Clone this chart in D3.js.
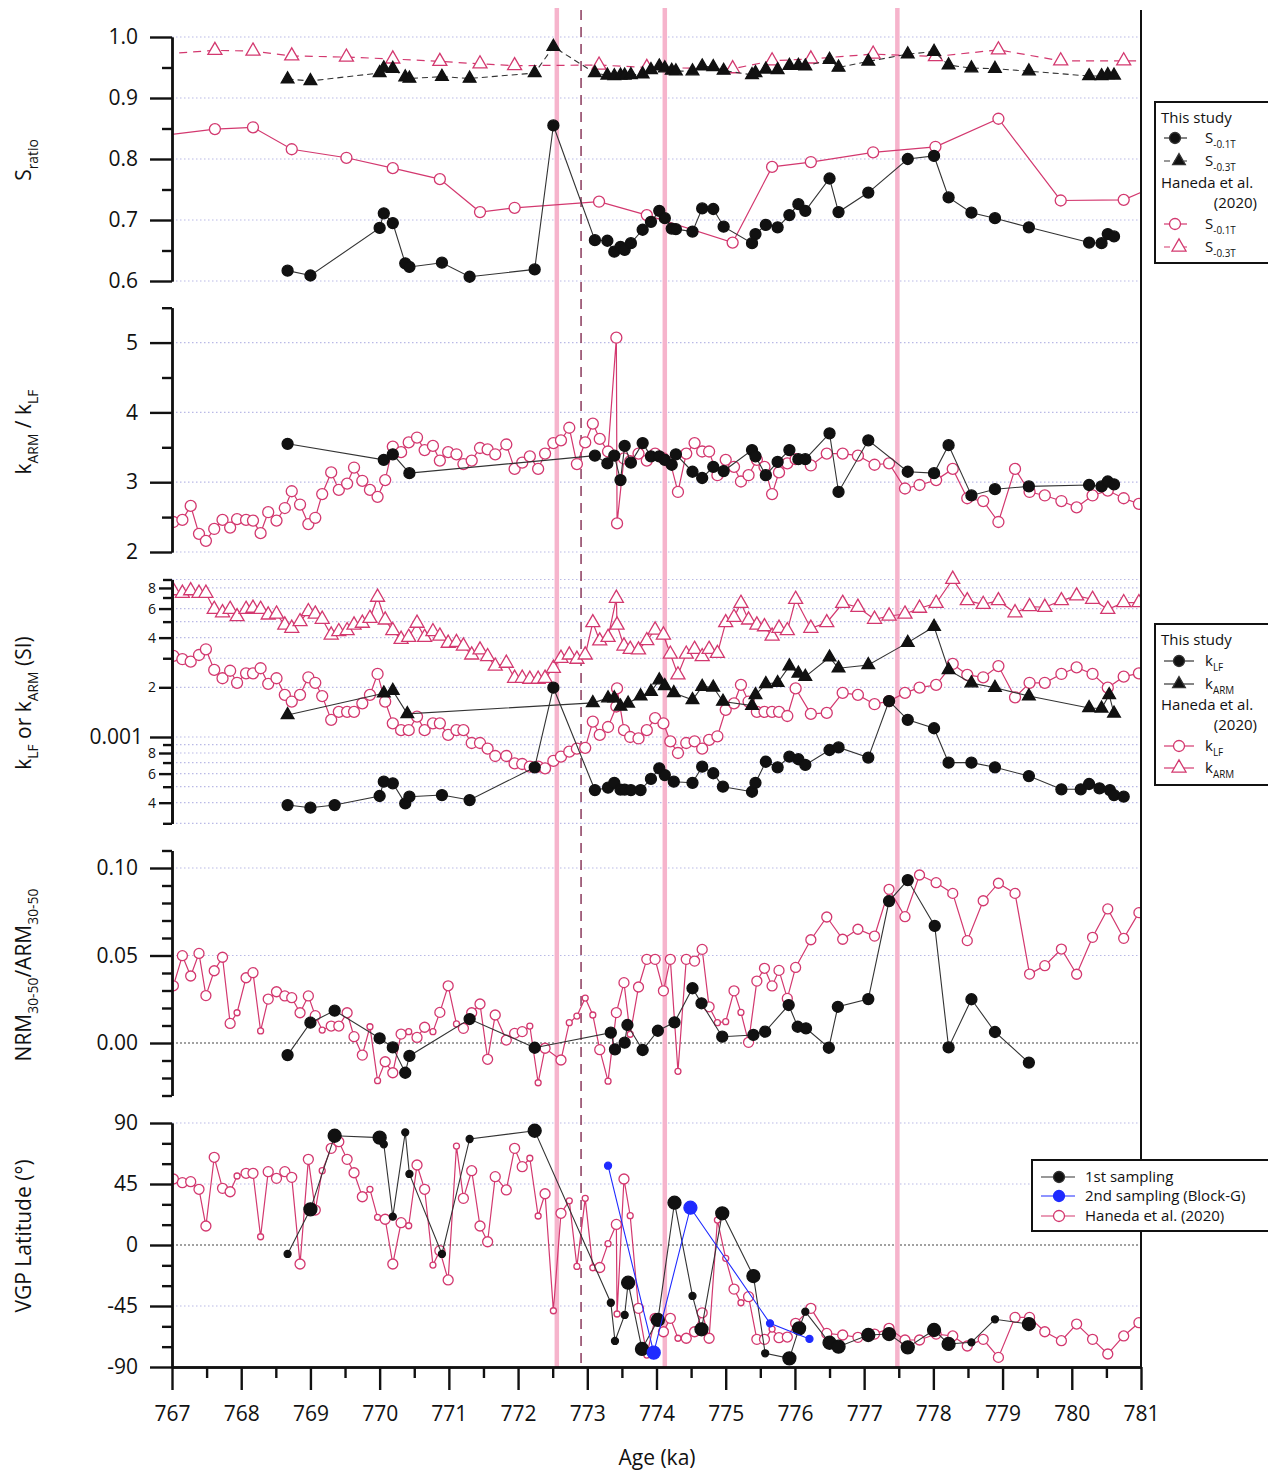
<!DOCTYPE html>
<html>
<head>
<meta charset="utf-8">
<script src="https://cdn.jsdelivr.net/npm/d3@7"></script>
<style>
  body { margin: 0; background: #fff; }
  svg text { font-family: "Open Sans", "DejaVu Sans", sans-serif; fill: #111; }
</style>
</head>
<body>
<div class="canvas"></div>
<script>
//DATA - THIS STUDY, S-RATIO
const sAge = [768.67, 769.00, 770.00, 770.06, 770.19, 770.37, 770.43, 770.90, 771.30, 772.24,
  772.51, 773.11, 773.29, 773.39, 773.48, 773.54, 773.63, 773.80, 773.92, 774.04,
  774.12, 774.22, 774.28, 774.52, 774.66, 774.82, 774.97, 775.38, 775.43, 775.58,
  775.75, 775.92, 776.05, 776.15, 776.50, 776.63, 777.06, 777.63, 778.01, 778.22,
  778.55, 778.89, 779.38, 780.25, 780.43, 780.52, 780.61];
const s01 = [0.617, 0.609, 0.687, 0.711, 0.695, 0.629, 0.623, 0.630, 0.607, 0.619,
  0.855, 0.667, 0.666, 0.648, 0.656, 0.651, 0.662, 0.684, 0.697, 0.715,
  0.703, 0.686, 0.685, 0.681, 0.719, 0.718, 0.689, 0.662, 0.677, 0.692,
  0.688, 0.708, 0.726, 0.715, 0.768, 0.713, 0.745, 0.800, 0.805, 0.737,
  0.712, 0.703, 0.688, 0.663, 0.662, 0.677, 0.673];
const s03 = [0.931, 0.928, 0.941, 0.949, 0.948, 0.934, 0.932, 0.935, 0.932, 0.941,
  0.984, 0.941, 0.937, 0.936, 0.937, 0.937, 0.938, 0.939, 0.946, 0.952,
  0.949, 0.945, 0.944, 0.944, 0.952, 0.951, 0.945, 0.938, 0.941, 0.947,
  0.946, 0.953, 0.953, 0.952, 0.963, 0.950, 0.960, 0.972, 0.976, 0.954,
  0.949, 0.948, 0.944, 0.936, 0.936, 0.938, 0.937];

//DATA - HANEDA ET AL. (2020), S-RATIO
const hSAge = [766.7, 767.62, 768.17, 768.73, 769.52, 770.19, 770.87, 771.45, 771.95, 773.17,
  773.86, 775.10, 775.67, 776.23, 777.13, 778.03, 778.94, 779.84, 780.75, 781.3];
const hS01 = [0.836, 0.849, 0.852, 0.816, 0.802, 0.785, 0.767, 0.713, 0.720, 0.730,
  0.708, 0.663, 0.787, 0.795, 0.811, 0.820, 0.866, 0.732, 0.733, 0.760];
const hS03 = [0.971, 0.978, 0.977, 0.969, 0.967, 0.964, 0.960, 0.956, 0.953, 0.954,
  0.950, 0.948, 0.961, 0.964, 0.972, 0.968, 0.979, 0.961, 0.961, 0.961];

//DATA - THIS STUDY, kARM/kLF
const rAge = [768.67, 770.06, 770.19, 770.43, 773.11, 773.29, 773.39, 773.48, 773.54, 773.63,
  773.80, 773.92, 774.04, 774.12, 774.22, 774.28, 774.52, 774.66, 774.82, 774.97,
  775.38, 775.43, 775.58, 775.75, 775.92, 776.05, 776.15, 776.50, 776.63, 777.06,
  777.63, 778.01, 778.22, 778.55, 778.89, 779.38, 780.25, 780.43, 780.52, 780.61];
const rVal = [3.55, 3.32, 3.40, 3.13, 3.38, 3.27, 3.38, 3.03, 3.52, 3.28,
  3.56, 3.37, 3.37, 3.32, 3.25, 3.40, 3.15, 3.06, 3.22, 3.16,
  3.46, 3.37, 3.10, 3.29, 3.46, 3.33, 3.33, 3.70, 2.86, 3.60,
  3.15, 3.13, 3.53, 2.81, 2.90, 2.94, 2.96, 2.94, 3.01, 2.97];

//DATA - THIS STUDY, kLF (x 1e-3 SI)
const kAge = [768.67, 769.00, 769.35, 770.00, 770.06, 770.19, 770.37, 770.43, 770.90, 771.30,
  772.24, 772.51, 773.11, 773.30, 773.39, 773.48, 773.54, 773.63, 773.77, 773.92,
  774.04, 774.12, 774.25, 774.52, 774.66, 774.82, 774.96, 775.38, 775.43, 775.58,
  775.75, 775.92, 776.05, 776.15, 776.50, 776.63, 777.06, 777.36, 777.63, 778.01,
  778.22, 778.55, 778.89, 779.38, 779.85, 780.13, 780.25, 780.40, 780.55, 780.61,
  780.75];
const kLf = [0.387, 0.373, 0.387, 0.439, 0.536, 0.524, 0.396, 0.435, 0.445, 0.415,
  0.655, 1.99, 0.477, 0.493, 0.528, 0.48, 0.48, 0.477, 0.477, 0.557,
  0.646, 0.588, 0.536, 0.528, 0.661, 0.603, 0.50, 0.466, 0.528, 0.708,
  0.655, 0.76, 0.733, 0.677, 0.834, 0.865, 0.75, 1.65, 1.27, 1.13,
  0.699, 0.699, 0.655, 0.58, 0.482, 0.482, 0.519, 0.489, 0.477, 0.445,
  0.435];

//DATA - THIS STUDY, kARM (x 1e-3 SI)
const kaAge = [768.67, 770.06, 770.19, 770.40, 773.08, 773.30, 773.39, 773.48, 773.59, 773.77,
  773.92, 774.04, 774.12, 774.25, 774.52, 774.66, 774.82, 774.96, 775.38, 775.43,
  775.58, 775.75, 775.92, 776.05, 776.15, 776.50, 776.63, 777.06, 777.63, 778.01,
  778.22, 778.55, 778.89, 779.38, 780.25, 780.43, 780.54, 780.61];
const kArm = [1.36, 1.84, 1.91, 1.38, 1.61, 1.72, 1.72, 1.53, 1.60, 1.77,
  1.88, 2.21, 2.04, 1.85, 1.68, 2.02, 2.00, 1.64, 1.55, 1.80,
  2.10, 2.13, 2.69, 2.43, 2.32, 3.04, 2.61, 2.73, 3.73, 4.66,
  2.55, 2.12, 1.99, 1.77, 1.50, 1.49, 1.80, 1.39];

//DATA - THIS STUDY, NRM30-50/ARM30-50
const nAge = [768.67, 769.00, 769.35, 770.00, 770.19, 770.37, 770.43, 771.30, 772.24, 773.34,
  773.40, 773.54, 773.58, 773.80, 774.02, 774.26, 774.52, 774.65, 774.95, 775.40,
  775.57, 775.91, 776.04, 776.16, 776.49, 776.62, 777.06, 777.36, 777.63, 778.02,
  778.22, 778.55, 778.89, 779.38];
const nVal = [-0.0069, 0.0116, 0.0185, 0.0027, -0.0025, -0.0170, -0.0074, 0.0137, -0.0027, 0.0059,
  -0.0036, 0.0002, 0.0103, -0.0040, 0.0070, 0.0118, 0.0313, 0.0227, 0.0036, 0.0046,
  0.0065, 0.0217, 0.0093, 0.0084, -0.0027, 0.0207, 0.0251, 0.0811, 0.0931, 0.0669,
  -0.0025, 0.0250, 0.0063, -0.0112];

//DATA - VGP LATITUDE, 1ST SAMPLING (big = 1 for large symbol)
const vAge = [768.67, 769.00, 769.35, 770.00, 770.06, 770.19, 770.37, 770.43, 770.90, 771.30,
  772.24, 773.34, 773.40, 773.54, 773.59, 773.79, 774.02, 774.26, 774.52, 774.65,
  774.95, 775.40, 775.57, 775.92, 776.06, 776.15, 776.50, 776.63, 777.06, 777.36,
  777.63, 778.01, 778.22, 778.55, 778.89, 779.38];
const vVal = [-6.6, 26.3, 80.6, 79.2, 74.3, 20.9, 83.1, 52.4, -6.6, 78.2,
  84.3, -42.6, -70.8, -51.6, -27.8, -76.7, -55.3, 31.2, -37.6, -62.2,
  23.4, -22.9, -79.9, -83.6, -61.5, -49.2, -72.1, -75.0, -66.4, -65.7,
  -75.5, -62.7, -73.0, -71.8, -54.8, -58.3];
const vBig = [0, 1, 1, 1, 0, 0, 0, 0, 0, 0,
  1, 0, 0, 0, 1, 1, 1, 1, 0, 1,
  1, 1, 0, 1, 1, 0, 1, 1, 1, 1,
  1, 1, 1, 0, 0, 1];

//DATA - VGP LATITUDE, 2ND SAMPLING (BLOCK-G)
const gAge = [773.30, 773.96, 774.49, 775.64, 776.21];
const gVal = [58.5, -79.4, 27.5, -57.8, -69.3];
const gBig = [0, 1, 1, 0, 0];

//DATA - HANEDA ET AL. (2020), SHARED AGES FOR PANELS 2-5
const hAge = [767.02, 767.15, 767.27, 767.39, 767.49, 767.61, 767.73, 767.84, 767.94, 768.07,
  768.17, 768.28, 768.39, 768.51, 768.63, 768.73, 768.85, 768.97, 769.07, 769.17,
  769.30, 769.41, 769.53, 769.63, 769.75, 769.86, 769.97, 770.08, 770.19, 770.31,
  770.42, 770.54, 770.65, 770.77, 770.87, 770.99, 771.11, 771.21, 771.33, 771.45,
  771.56, 771.67, 771.83, 771.95, 772.06, 772.17, 772.29, 772.39, 772.51, 772.62,
  772.74, 772.85, 772.97, 773.08, 773.18, 773.30, 773.42, 773.43, 773.53, 773.62,
  773.74, 773.86, 773.98, 774.10, 774.20, 774.31, 774.43, 774.55, 774.66, 774.76,
  774.88, 775.00, 775.12, 775.22, 775.33, 775.45, 775.56, 775.67, 775.77, 775.89,
  776.01, 776.23, 776.46, 776.69, 776.91, 777.15, 777.36, 777.59, 777.80, 778.04,
  778.28, 778.49, 778.72, 778.94, 779.18, 779.39, 779.61, 779.85, 780.07, 780.30,
  780.52, 780.75, 780.97];
const hRatio = [2.43, 2.46, 2.66, 2.26, 2.16, 2.33, 2.46, 2.35, 2.47, 2.46,
  2.45, 2.27, 2.57, 2.45, 2.63, 2.87, 2.68, 2.40, 2.49, 2.83,
  3.14, 2.89, 2.98, 3.21, 3.02, 2.89, 2.79, 3.03, 3.51, 3.43,
  3.57, 3.64, 3.46, 3.52, 3.31, 3.43, 3.40, 3.26, 3.31, 3.49,
  3.47, 3.40, 3.54, 3.19, 3.28, 3.37, 3.19, 3.41, 3.56, 3.60,
  3.78, 3.26, 3.57, 3.84, 3.62, 3.44, 5.07, 2.41, 3.34, 3.30,
  3.41, 3.31, 3.41, 3.34, 3.28, 2.86, 3.41, 3.56, 3.44, 3.44,
  3.10, 3.32, 3.22, 3.01, 3.10, 3.32, 3.22, 2.83, 3.14, 3.27,
  3.33, 3.24, 3.41, 3.41, 3.38, 3.25, 3.27, 2.91, 2.96, 3.03,
  3.19, 2.77, 2.73, 2.43, 3.19, 2.86, 2.81, 2.73, 2.64, 2.81,
  2.88, 2.77, 2.69];
const hKlf = [3.10, 2.96, 2.86, 3.14, 3.40, 2.55, 2.27, 2.52, 2.13, 2.43,
  2.43, 2.61, 2.10, 2.27, 1.80, 1.64, 1.80, 2.30, 2.13, 1.77,
  1.27, 1.42, 1.42, 1.42, 1.60, 1.80, 2.41, 1.64, 1.21, 1.10,
  1.10, 1.33, 1.10, 1.21, 1.21, 1.03, 1.10, 1.10, 0.92, 0.92,
  0.85, 0.767, 0.767, 0.692, 0.686, 0.661, 0.661, 0.646, 0.716, 0.76,
  0.815, 0.85, 0.86, 1.24, 1.03, 1.15, 1.53, 1.97, 1.10, 1.00,
  0.98, 1.10, 1.30, 1.21, 0.94, 0.80, 0.92, 0.94, 0.85, 0.96,
  1.01, 1.46, 1.60, 2.07, 1.64, 1.42, 1.42, 1.42, 1.42, 1.34,
  1.97, 1.38, 1.40, 1.85, 1.80, 1.58, 1.65, 1.85, 1.99, 2.07,
  2.77, 2.38, 2.30, 2.69, 1.74, 2.13, 2.13, 2.41, 2.64, 2.41,
  1.99, 2.32, 2.43];
const hKarm = [7.7, 7.43, 7.7, 7.43, 7.43, 5.94, 5.66, 5.94, 5.36, 5.94,
  6.03, 5.94, 5.49, 5.56, 4.77, 4.56, 5.0, 5.75, 5.56, 5.17,
  4.15, 4.35, 4.41, 4.77, 4.89, 5.24, 7.03, 5.12, 4.41, 3.91,
  4.02, 4.89, 4.02, 4.35, 4.09, 3.70, 3.74, 3.56, 3.14, 3.37,
  3.07, 2.69, 2.80, 2.27, 2.27, 2.24, 2.24, 2.27, 2.61, 3.0,
  3.14, 2.96, 3.14, 4.93, 3.82, 4.02, 6.93, 4.77, 3.56, 3.40,
  3.37, 3.84, 4.45, 4.15, 3.18, 2.38, 3.18, 3.40, 3.07, 3.40,
  3.21, 4.93, 5.31, 6.46, 5.12, 4.77, 4.66, 4.09, 4.56, 4.41,
  6.83, 4.56, 4.93, 6.46, 6.11, 5.17, 5.41, 5.56, 6.03, 6.46,
  9.03, 6.7, 6.36, 6.7, 5.66, 6.16, 6.11, 6.7, 7.16, 6.83,
  5.94, 6.52, 6.52];
const hNrm = [0.0327, 0.0499, 0.0383, 0.0512, 0.0271, 0.0413, 0.0490, 0.0112, 0.0173, 0.0373,
  0.0402, 0.0069, 0.0251, 0.0293, 0.0269, 0.0259, 0.0173, 0.0269, 0.0156, 0.0074,
  0.0097, 0.0097, 0.0173, 0.0036, -0.0069, 0.0093, -0.0215, -0.0107, -0.0170, 0.0051,
  0.0065, 0.0032, 0.0090, 0.0065, 0.0175, 0.0327, 0.0109, 0.0084, 0.0173, 0.0223,
  -0.0093, 0.0160, 0.0017, 0.0055, 0.0065, 0.0097, -0.0227, -0.0030, null, -0.0097,
  0.0116, 0.0154, 0.0257, 0.0160, -0.0038, -0.0218, 0.0174, null, 0.0345, 0.0050,
  0.0320, 0.0478, 0.0478, 0.0298, 0.0478, -0.0162, 0.0478, 0.0468, 0.0535, 0.0207,
  0.0116, 0.0122, 0.0298, 0.0175, 0.0004, 0.0354, 0.0427, 0.0326, 0.0415, 0.0255,
  0.0432, 0.0590, 0.0720, 0.0593, 0.0650, 0.0611, 0.0878, 0.0722, 0.0960, 0.0916,
  0.0855, 0.0585, 0.0813, 0.0913, 0.0855, 0.0394, 0.0442, 0.0537, 0.0393, 0.0604,
  0.0766, 0.0598, 0.0745];
const hNrmGood = [1, 1, 1, 1, 1, 1, 1, 1, 0, 1,
  1, 0, 1, 1, 1, 1, 1, 1, 1, 0,
  1, 1, 1, 1, 1, 0, 0, 1, 1, 1,
  0, 1, 1, 0, 1, 1, 0, 1, 1, 1,
  1, 1, 1, 1, 1, 0, 0, 1, 1, 1,
  0, 0, 0, 0, 1, 0, 1, 1, 1, 0,
  1, 1, 1, 1, 1, 0, 1, 1, 1, 1,
  0, 0, 1, 0, 1, 1, 1, 1, 1, 1,
  1, 1, 1, 1, 1, 1, 1, 1, 1, 1,
  1, 1, 1, 1, 1, 1, 1, 1, 1, 1,
  1, 1, 1];
const hVgp = [48.7, 46.0, 46.7, 41.1, 14.0, 64.7, 41.8, 39.3, 50.9, 52.9,
  52.9, 6.1, 54.1, 49.2, 54.1, 49.9, -14.0, 63.2, 25.8, 54.8,
  71.3, 76.2, 63.2, 53.3, 35.6, 41.1, 20.4, 19.0, -14.0, 16.5,
  14.2, 59.0, 41.1, -14.8, -4.2, -25.8, 73.0, 34.4, 54.8, 14.0,
  2.4, 50.4, 40.6, 71.3, 57.8, 64.0, 21.4, 37.8, -48.5, 23.4,
  32.6, -15.8, 34.4, -16.8, -16.6, 1.0, 15.2, -50.9, 48.7, 21.6,
  -46.7, -81.2, -54.1, -64.0, -54.1, -68.8, -68.8, -64.0, -50.0, -68.8,
  18.4, -9.8, -32.5, -42.6, -38.1, -69.6, -69.6, -62.0, -68.4, -67.9,
  -57.8, -46.7, -65.2, -66.4, -68.1, -65.7, -61.5, -70.1, -70.1, -65.7,
  -67.1, -74.5, -69.6, -82.9, -53.4, -53.4, -64.0, -70.6, -58.3, -69.6,
  -80.4, -67.1, -57.3];
const hVgpGood = [1, 1, 1, 1, 1, 1, 1, 1, 0, 1,
  1, 0, 1, 1, 1, 1, 1, 1, 1, 0,
  1, 1, 1, 1, 1, 0, 0, 1, 1, 1,
  0, 1, 1, 0, 1, 1, 0, 1, 1, 1,
  1, 1, 1, 1, 1, 0, 0, 1, 0, 1,
  0, 0, 0, 0, 1, 0, 1, 0, 1, 0,
  1, 0, 1, 1, 1, 0, 1, 1, 1, 1,
  0, 0, 1, 0, 1, 1, 1, 0, 1, 1,
  1, 1, 1, 1, 1, 1, 1, 1, 1, 1,
  1, 1, 1, 1, 1, 1, 1, 1, 1, 1,
  1, 1, 1];

//REFERENCE LINES (ka)
const pinkLines = [772.56, 774.12, 777.48];
const dashLine = 772.91;
const xTicks = d3.range(767, 782, 1);

//COLOURS
var PINK = '#d3386f';
var BLACK = '#111';
var BLUE = '#1f2bff';
var VPINK = '#f6b4cc';
var GRID = '#b9b9e6';

//SVG
var w = 1268, h = 1472;
var svg = d3.select('.canvas').append('svg')
  .attr('width', w)
  .attr('height', h);

//SCALES
var x = d3.scaleLinear().domain([767, 781]).range([172, 1141]);
var yS = d3.scaleLinear().domain([0.6, 1.0]).range([281, 37]);
var yR = d3.scaleLinear().domain([2, 5.5]).range([552, 307.7]);
var yK = d3.scaleLog().domain([3e-4, 9e-3]).range([823.3, 579.5]);
var yN = d3.scaleLinear().domain([-0.03, 0.11]).range([1095.5, 850.5]);
var yV = d3.scaleLinear().domain([-90, 90]).range([1367, 1123]);

//HELPERS
function zip(ages, vals, flags, mult) {
  return ages.map((a, i) => ({ a: a, v: vals[i] == null ? null : vals[i] * (mult || 1), f: flags ? flags[i] : 1 }))
    .filter(d => d.v != null);
}

function grid(y, vals, color, dash) {
  svg.append('g').selectAll('line').data(vals).enter().append('line')
    .attr('x1', x.range()[0]).attr('x2', x.range()[1])
    .attr('y1', d => y(d)).attr('y2', d => y(d))
    .attr('stroke', color).attr('stroke-width', 1.2)
    .attr('stroke-dasharray', dash);
}

// one axis call per group, so ticks from different calls are not joined away
function axisPart(axis, tx, ty, size) {
  var g = svg.append('g').attr('transform', 'translate(' + tx + ',' + ty + ')').call(axis);
  g.selectAll('path, line').attr('stroke', BLACK).attr('stroke-width', 2.4);
  g.selectAll('text').attr('font-size', size || 21).attr('fill', BLACK);
  return g;
}

function leftAxis(y, major, minor, fmt) {
  axisPart(d3.axisLeft(y).tickValues(minor).tickSize(10).tickSizeOuter(0).tickFormat(''), 172, 0);
  axisPart(d3.axisLeft(y).tickValues(major).tickSize(22).tickSizeOuter(0).tickPadding(12).tickFormat(fmt), 172, 0);
}

function richText(sel, parts, size) {
  var t = sel.append('text').attr('font-size', size);
  var shift = 0;
  parts.forEach(p => {
    var want = p[1] ? size * 0.32 : 0;
    t.append('tspan')
      .attr('dy', want - shift)
      .attr('font-size', p[1] ? size * 0.66 : size)
      .text(p[0]);
    shift = want;
  });
  return t;
}

function line(g, data, y, color, width, dash) {
  g.append('path').datum(data)
    .attr('d', d3.line().x(d => x(d.a)).y(d => y(d.v)))
    .attr('fill', 'none')
    .attr('stroke', color)
    .attr('stroke-width', width)
    .attr('stroke-dasharray', dash || null);
}

function dots(g, data, y, fill, stroke, r) {
  g.append('g').selectAll('circle').data(data).enter().append('circle')
    .attr('cx', d => x(d.a)).attr('cy', d => y(d.v))
    .attr('r', r)
    .attr('fill', fill).attr('stroke', stroke).attr('stroke-width', 1.3);
}

function tris(g, data, y, fill, stroke, size) {
  g.append('g').selectAll('path').data(data).enter().append('path')
    .attr('d', d3.symbol(d3.symbolTriangle, size))
    .attr('transform', d => 'translate(' + x(d.a) + ',' + y(d.v) + ')')
    .attr('fill', fill).attr('stroke', stroke).attr('stroke-width', 1.3);
}

//CLIP
svg.append('defs').append('clipPath').attr('id', 'plot')
  .append('rect').attr('x', 172).attr('y', 0).attr('width', 969).attr('height', 1367);

//GRIDLINES
grid(yS, [0.6, 0.7, 0.8, 0.9, 1.0], GRID, '1.5,2.5');
grid(yR, [2, 3, 4, 5], GRID, '1.5,2.5');
var kGrid = [];
[1e-4, 1e-3].forEach(dec => d3.range(1, 10).forEach(m => { var v = m * dec; if (v >= 2.99e-4 && v <= 9.01e-3) kGrid.push(v); }));
grid(yK, kGrid, GRID, '1.5,2.5');
grid(yN, [0.05, 0.10], GRID, '1.5,2.5');
grid(yN, [0], '#444', '2,2');
grid(yV, [90, 45, -45], GRID, '1.5,2.5');
grid(yV, [0], '#444', '2,2');

//VERTICAL REFERENCE LINES
svg.append('g').selectAll('line').data(pinkLines).enter().append('line')
  .attr('x1', d => x(d)).attr('x2', d => x(d))
  .attr('y1', 8).attr('y2', 1367)
  .attr('stroke', VPINK).attr('stroke-width', 4.5);
svg.append('line')
  .attr('x1', x(dashLine)).attr('x2', x(dashLine))
  .attr('y1', 10).attr('y2', 1367)
  .attr('stroke', '#8a3a5c').attr('stroke-width', 1.5)
  .attr('stroke-dasharray', '10,7');

//DATA LAYER
var plot = svg.append('g').attr('clip-path', 'url(#plot)');

// panel 1 - S ratio
var p1 = plot.append('g');
var hs1 = zip(hSAge, hS01), hs3 = zip(hSAge, hS03);
line(p1, hs3, yS, PINK, 1.2, '8,6');
line(p1, hs1, yS, PINK, 1.2);
tris(p1, hs3, yS, '#fff', PINK, 85);
dots(p1, hs1, yS, '#fff', PINK, 5.5);
var ts1 = zip(sAge, s01), ts3 = zip(sAge, s03);
line(p1, ts3, yS, '#333', 1.1, '6,4');
line(p1, ts1, yS, '#333', 1.1);
tris(p1, ts3, yS, BLACK, BLACK, 70);
dots(p1, ts1, yS, BLACK, BLACK, 5.5);

// panel 2 - kARM/kLF
var p2 = plot.append('g');
var hr = zip(hAge, hRatio);
line(p2, hr, yR, PINK, 1.2);
dots(p2, hr, yR, '#fff', PINK, 5.5);
var tr = zip(rAge, rVal);
line(p2, tr, yR, '#333', 1.1);
dots(p2, tr, yR, BLACK, BLACK, 5.5);

// panel 3 - kLF and kARM (log)
var p3 = plot.append('g');
var hkl = zip(hAge, hKlf, null, 1e-3), hka = zip(hAge, hKarm, null, 1e-3);
line(p3, hka, yK, PINK, 1.2);
line(p3, hkl, yK, PINK, 1.2);
tris(p3, hka, yK, '#fff', PINK, 85);
dots(p3, hkl, yK, '#fff', PINK, 5.5);
var tkl = zip(kAge, kLf, null, 1e-3), tka = zip(kaAge, kArm, null, 1e-3);
line(p3, tka, yK, '#333', 1.1);
line(p3, tkl, yK, '#333', 1.1);
tris(p3, tka, yK, BLACK, BLACK, 70);
dots(p3, tkl, yK, BLACK, BLACK, 5.5);

// panel 4 - NRM/ARM
var p4 = plot.append('g');
var hn = zip(hAge, hNrm, hNrmGood);
line(p4, hn, yN, PINK, 1.2);
dots(p4, hn, yN, '#fff', PINK, d => d.f ? 5 : 3);
var tn = zip(nAge, nVal);
line(p4, tn, yN, '#333', 1.1);
dots(p4, tn, yN, BLACK, BLACK, 5.5);

// panel 5 - VGP latitude
var p5 = plot.append('g');
var hv = zip(hAge, hVgp, hVgpGood);
line(p5, hv, yV, PINK, 1.2);
dots(p5, hv, yV, '#fff', PINK, d => d.f ? 5 : 3);
var tv = zip(vAge, vVal, vBig);
line(p5, tv, yV, '#333', 1.1);
dots(p5, tv, yV, BLACK, BLACK, d => d.f ? 6.5 : 3.5);
var gv = zip(gAge, gVal, gBig);
line(p5, gv, yV, BLUE, 1.1);
dots(p5, gv, yV, BLUE, BLUE, d => d.f ? 6.5 : 3.5);

//LEFT AXES
leftAxis(yS, [0.6, 0.7, 0.8, 0.9, 1.0], [0.65, 0.75, 0.85, 0.95], d3.format('.1f'));
leftAxis(yR, [2, 3, 4, 5], [2.5, 3.5, 4.5, 5.5], d3.format('d'));
leftAxis(yN, [0, 0.05, 0.10], [-0.03, -0.02, -0.01, 0.01, 0.02, 0.03, 0.04, 0.06, 0.07, 0.08, 0.09, 0.11], d3.format('.2f'));
leftAxis(yV, [-90, -45, 0, 45, 90], [-75, -60, -30, -15, 15, 30, 60, 75], d => String(d));

// log axis for panel 3: long tick at 0.001, labelled mantissas 2,4,6,8, short ticks between
var kSmall = [4e-4, 6e-4, 8e-4, 2e-3, 4e-3, 6e-3, 8e-3];
var kMinor = kGrid.filter(v => !kSmall.some(s => Math.abs(s - v) < 1e-9) && Math.abs(v - 1e-3) > 1e-9);
axisPart(d3.axisLeft(yK).tickValues(kMinor).tickSize(9).tickSizeOuter(0).tickFormat(''), 172, 0);
axisPart(d3.axisLeft(yK).tickValues(kSmall).tickSize(13).tickSizeOuter(0).tickPadding(3)
  .tickFormat(d => Math.round(d / Math.pow(10, Math.floor(Math.log10(d) + 1e-9)))), 172, 0, 14);
axisPart(d3.axisLeft(yK).tickValues([1e-3]).tickSize(22).tickSizeOuter(0).tickPadding(7)
  .tickFormat(() => '0.001'), 172, 0, 21);

//BOTTOM AXIS
axisPart(d3.axisBottom(x).tickValues(d3.range(767.5, 781, 1)).tickSize(11).tickSizeOuter(0).tickFormat(''), 0, 1367);
axisPart(d3.axisBottom(x).tickValues(xTicks).tickSize(23).tickSizeOuter(0).tickPadding(16).tickFormat(d3.format('d')), 0, 1367);

//RIGHT FRAME LINE
svg.append('line').attr('x1', 1141).attr('x2', 1141).attr('y1', 10).attr('y2', 1367)
  .attr('stroke', BLACK).attr('stroke-width', 2);

//AXIS TITLES
svg.append('text').attr('x', 657).attr('y', 1465).attr('text-anchor', 'middle')
  .attr('font-size', 21).text('Age (ka)');

var yTitles = [
  { cy: 160, parts: [['S', 0], ['ratio', 1]] },
  { cy: 432, parts: [['k', 0], ['ARM', 1], [' / k', 0], ['LF', 1]] },
  { cy: 703, parts: [['k', 0], ['LF', 1], [' or k', 0], ['ARM', 1], [' (SI)', 0]] },
  { cy: 975, parts: [['NRM', 0], ['30-50', 1], ['/ARM', 0], ['30-50', 1]] },
  { cy: 1236, parts: [['VGP Latitude (°)', 0]] }
];
yTitles.forEach(t => {
  var g = svg.append('g').attr('transform', 'translate(31,' + t.cy + ') rotate(-90)');
  richText(g, t.parts, 21).attr('text-anchor', 'middle');
});

//LEGENDS
var LF = 15;
function legendBox(x0, y0, bw, bh) {
  var g = svg.append('g');
  g.append('rect').attr('x', x0).attr('y', y0).attr('width', bw).attr('height', bh)
    .attr('fill', '#fff').attr('stroke', BLACK).attr('stroke-width', 2);
  return g;
}
function legendRow(g, y, color, dash, shape, fill, parts, x0, x1, mx, tx) {
  g.append('line').attr('x1', x0).attr('x2', x1).attr('y1', y).attr('y2', y)
    .attr('stroke', color).attr('stroke-width', 1.2).attr('stroke-dasharray', dash || null);
  if (shape === 'tri') {
    g.append('path').attr('d', d3.symbol(d3.symbolTriangle, fill === '#fff' ? 85 : 70))
      .attr('transform', 'translate(' + mx + ',' + y + ')')
      .attr('fill', fill).attr('stroke', color).attr('stroke-width', 1.3);
  } else {
    g.append('circle').attr('cx', mx).attr('cy', y).attr('r', 5.5)
      .attr('fill', fill).attr('stroke', color).attr('stroke-width', 1.3);
  }
  richText(g.append('g').attr('transform', 'translate(' + tx + ',' + (y + 5) + ')'), parts, LF);
}

// legend 1 - S ratio
var L1 = legendBox(1155, 102, 130, 161);
L1.append('text').attr('x', 1161).attr('y', 123).attr('font-size', LF).text('This study');
legendRow(L1, 138, '#333', null, 'dot', BLACK, [['S', 0], ['-0.1T', 1]], 1164, 1187, 1175, 1205);
legendRow(L1, 161, '#333', '6,4', 'tri', BLACK, [['S', 0], ['-0.3T', 1]], 1164, 1187, 1179, 1205);
L1.append('text').attr('x', 1161).attr('y', 188).attr('font-size', LF).text('Haneda et al.');
L1.append('text').attr('x', 1257).attr('y', 208).attr('font-size', LF).attr('text-anchor', 'end').text('(2020)');
legendRow(L1, 224, PINK, null, 'dot', '#fff', [['S', 0], ['-0.1T', 1]], 1164, 1187, 1175, 1205);
legendRow(L1, 247, PINK, '6,4', 'tri', '#fff', [['S', 0], ['-0.3T', 1]], 1164, 1187, 1179, 1205);

// legend 2 - susceptibility
var L2 = legendBox(1155, 624, 130, 161);
L2.append('text').attr('x', 1161).attr('y', 645).attr('font-size', LF).text('This study');
legendRow(L2, 661, '#333', null, 'dot', BLACK, [['k', 0], ['LF', 1]], 1164, 1194, 1179, 1205);
legendRow(L2, 684, '#333', null, 'tri', BLACK, [['k', 0], ['ARM', 1]], 1164, 1194, 1179, 1205);
L2.append('text').attr('x', 1161).attr('y', 710).attr('font-size', LF).text('Haneda et al.');
L2.append('text').attr('x', 1257).attr('y', 730).attr('font-size', LF).attr('text-anchor', 'end').text('(2020)');
legendRow(L2, 746, PINK, null, 'dot', '#fff', [['k', 0], ['LF', 1]], 1164, 1194, 1179, 1205);
legendRow(L2, 768, PINK, null, 'tri', '#fff', [['k', 0], ['ARM', 1]], 1164, 1194, 1179, 1205);

// legend 3 - VGP
var L3 = legendBox(1032, 1160, 245, 71);
legendRow(L3, 1177, '#333', null, 'dot', BLACK, [['1st sampling', 0]], 1041, 1075, 1059, 1085);
legendRow(L3, 1196, BLUE, null, 'dot', BLUE, [['2nd sampling (Block-G)', 0]], 1041, 1075, 1059, 1085);
legendRow(L3, 1216, PINK, null, 'dot', '#fff', [['Haneda et al. (2020)', 0]], 1041, 1075, 1059, 1085);
</script>
</body>
</html>
